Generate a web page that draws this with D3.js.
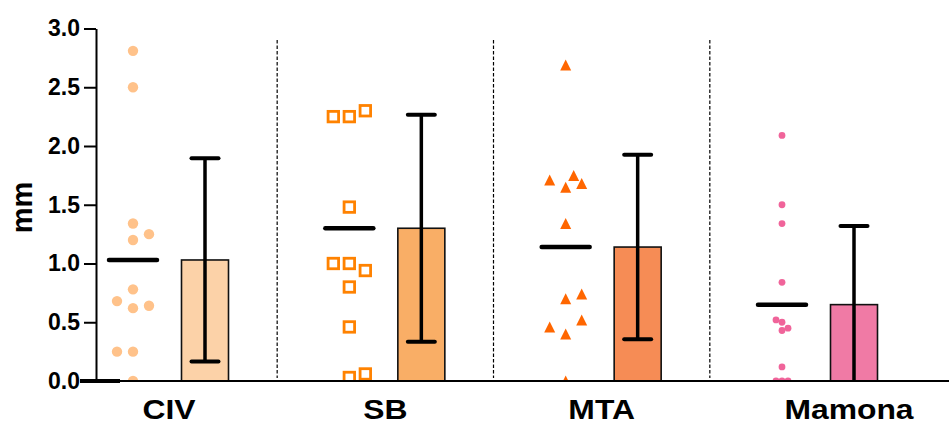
<!DOCTYPE html>
<html>
<head>
<meta charset="utf-8">
<script src="https://cdn.jsdelivr.net/npm/d3@7"></script>
<style>
body { margin: 0; background: #fff; }
svg { display: block; font-family: "Liberation Sans", Arial, sans-serif; }
</style>
</head>
<body>
<svg id="chart" width="949" height="429"></svg>
<script>
// groups and the raw points (order only matters for the jitter layout)
var groups = ["CIV", "SB", "MTA", "Mamona"];
var civValues = [2.81, 2.50, 1.34, 1.25, 1.20, 0.25, 0.25, 0.62, 0.64, 0.68, 0.78, 0.00];
var sbValues = [0.03, 0.06, 2.25, 2.25, 2.30, 1.00, 1.00, 0.94, 0.80, 1.48, 0.46];
var mtaValues = [2.69, 1.34, 0.70, 0.74, 0.40, 0.46, 0.52, 1.65, 1.71, 1.68, 1.75, 0.00];
var mamonaValues = [2.09, 1.50, 1.34, 0.84, 0.12, 0.50, 0.45, 0.43, 0.52, 0.00, 0.00, 0.00];
var means = [1.03, 1.30, 1.14, 0.65];
var sds = [0.865, 0.965, 0.785, 0.67];
var yTicks = [0, 0.5, 1.0, 1.5, 2.0, 2.5, 3.0];

var values = [civValues, sbValues, mtaValues, mamonaValues];
// bar colours are the checker-hatched fills flattened to one tone
var styles = [
    { symbol: "circle", color: "#ffc28a", size: 5.2, step: 16, minDist: 15, bar: "#fcd2a8" },
    { symbol: "square", color: "#ff8200", size: 10.5, step: 16, minDist: 15, bar: "#f9ae66" },
    { symbol: "triangle", color: "#ff6600", size: 11, step: 16, minDist: 15, bar: "#f68c55" },
    { symbol: "circle", color: "#f0649a", size: 3.4, step: 6, minDist: 5.9, bar: "#f07aa5" }
];

var plotLeft = 96, plotRight = 949, plotTop = 28.5, plotBottom = 381;
var svg = d3.select("#chart");

var y = d3.scaleLinear().domain([0, 3]).range([plotBottom, plotTop]);
var x = d3.scalePoint().domain(groups).range([169, 818]);
var dotOff = -36, barOff = 36, barW = 47;

// simple swarm: keep centre column unless it collides, then alternate sides;
// if all three columns are taken, squeeze in at the half step with most room
function swarm(vals, step, minDist) {
    var placed = [];
    var turn = 1;
    vals.forEach(function (v) {
        var py = y(v);
        var clearance = function (k) {
            return d3.min(placed, function (p) {
                return Math.hypot((p.k - k) * step, p.y - py);
            });
        };
        var hit = function (k) { return placed.length && clearance(k) < minDist; };
        var k = 0;
        if (hit(0)) {
            k = [turn, -turn].find(function (c) { return !hit(c); });
            if (k === undefined) {
                k = d3.greatest([0.5, -0.5], function (c) { return clearance(c); });
            }
            turn = -turn;
        }
        placed.push({ v: v, k: k, y: py });
    });
    return placed;
}

var defs = svg.append("defs");
defs.append("clipPath").attr("id", "plotclip")
    .append("rect").attr("x", plotLeft).attr("y", 0)
    .attr("width", plotRight - plotLeft).attr("height", plotBottom);

// dashed separators between groups
for (var i = 0; i < groups.length - 1; i++) {
    var sx = (x(groups[i]) + x(groups[i + 1])) / 2;
    svg.append("line")
        .attr("x1", sx).attr("x2", sx)
        .attr("y1", 40).attr("y2", 378)
        .attr("stroke", "#000")
        .attr("stroke-width", 1.2)
        .attr("stroke-dasharray", "3.5,2");
}

var plot = svg.append("g").attr("clip-path", "url(#plotclip)");

// bars
plot.selectAll(".bar").data(groups).enter().append("rect")
    .attr("class", "bar")
    .attr("x", function (g) { return x(g) + barOff - barW / 2; })
    .attr("y", function (g, i) { return y(means[i]); })
    .attr("width", barW)
    .attr("height", function (g, i) { return y(0) - y(means[i]); })
    .attr("fill", function (g, i) { return styles[i].bar; })
    .attr("stroke", "#111")
    .attr("stroke-width", 1.6);

// error bars
groups.forEach(function (g, i) {
    var cx = x(g) + barOff;
    var hi = y(means[i] + sds[i]), lo = y(means[i] - sds[i]);
    plot.append("line")
        .attr("x1", cx).attr("x2", cx).attr("y1", hi).attr("y2", lo)
        .attr("stroke", "#000").attr("stroke-width", 3.5);
    [hi, lo].forEach(function (cy) {
        plot.append("line")
            .attr("x1", cx - 13.5).attr("x2", cx + 13.5).attr("y1", cy).attr("y2", cy)
            .attr("stroke", "#000").attr("stroke-width", 4).attr("stroke-linecap", "round");
    });
});

// mean lines over the scatter
plot.selectAll(".mean").data(groups).enter().append("line")
    .attr("class", "mean")
    .attr("x1", function (g) { return x(g) + dotOff - 24; })
    .attr("x2", function (g) { return x(g) + dotOff + 24; })
    .attr("y1", function (g, i) { return y(means[i]); })
    .attr("y2", function (g, i) { return y(means[i]); })
    .attr("stroke", "#000")
    .attr("stroke-width", 4.5)
    .attr("stroke-linecap", "round");

// points
groups.forEach(function (g, i) {
    var s = styles[i];
    var pts = swarm(values[i], s.step, s.minDist);
    var sel = plot.selectAll(".pt" + i).data(pts).enter();
    var px = function (d) { return x(g) + dotOff + d.k * s.step; };
    if (s.symbol === "circle") {
        sel.append("circle")
            .attr("cx", px).attr("cy", function (d) { return d.y; })
            .attr("r", s.size).attr("fill", s.color);
    } else if (s.symbol === "square") {
        sel.append("rect")
            .attr("x", function (d) { return px(d) - s.size / 2; })
            .attr("y", function (d) { return d.y - s.size / 2; })
            .attr("width", s.size).attr("height", s.size)
            .attr("fill", "#fff").attr("stroke", s.color).attr("stroke-width", 2.8);
    } else {
        var h = s.size / 2;
        sel.append("path")
            .attr("transform", function (d) { return "translate(" + px(d) + "," + d.y + ")"; })
            .attr("d", "M0," + (-h) + "L" + h + "," + h + "L" + (-h) + "," + h + "Z")
            .attr("fill", s.color);
    }
});

// y axis
var yAxis = svg.append("g")
    .attr("transform", "translate(" + plotLeft + ",0)")
    .call(d3.axisLeft(y).tickValues(yTicks).tickFormat(d3.format(".1f"))
        .tickSize(12).tickSizeOuter(0).tickPadding(4));
yAxis.select(".domain").attr("stroke", "#000").attr("stroke-width", 2);
yAxis.selectAll(".tick line").attr("stroke", "#000").attr("stroke-width", 2);
yAxis.selectAll(".tick text")
    .attr("fill", "#000")
    .style("font-size", "23px")
    .style("font-weight", "bold");

// x axis line
svg.append("line")
    .attr("x1", plotLeft).attr("x2", plotRight).attr("y1", y(0)).attr("y2", y(0))
    .attr("stroke", "#000").attr("stroke-width", 2);
svg.append("line")
    .attr("x1", plotLeft - 16).attr("x2", plotLeft + 24).attr("y1", y(0)).attr("y2", y(0))
    .attr("stroke", "#000").attr("stroke-width", 4);

// group labels
svg.selectAll(".xlab").data(groups).enter().append("text")
    .attr("class", "xlab")
    .attr("transform", function (g) {
        var dx = g === "Mamona" ? 31 : 0;
        return "translate(" + (x(g) + dx) + ",419) scale(1.18,1)";
    })
    .attr("text-anchor", "middle")
    .style("font-size", "27px")
    .style("font-weight", "bold")
    .text(function (g) { return g; });

// y title
svg.append("text")
    .attr("transform", "translate(32,207.5) rotate(-90)")
    .attr("text-anchor", "middle")
    .style("font-size", "29px")
    .style("font-weight", "bold")
    .text("mm");
</script>
</body>
</html>
